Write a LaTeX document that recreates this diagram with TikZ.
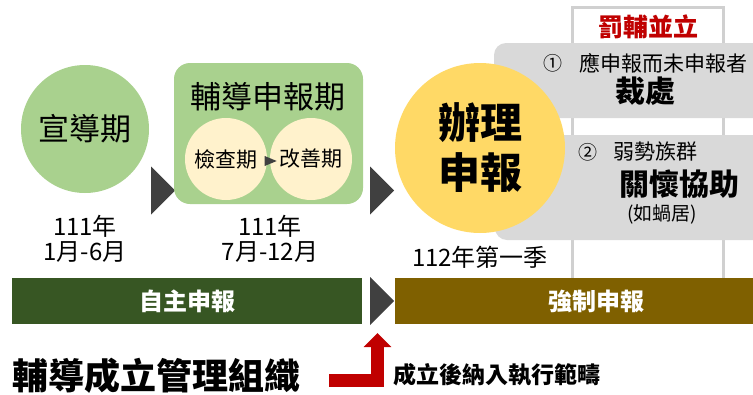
\documentclass[tikz,border=0pt]{standalone}
\usepackage{fontspec}
\newfontfamily\cjk{Noto Sans CJK TC}
\definecolor{leafgreen}{RGB}{169,209,142}
\definecolor{creamy}{RGB}{255,242,204}
\definecolor{sunyellow}{RGB}{255,217,102}
\definecolor{panelgrey}{RGB}{217,217,217}
\definecolor{framegrey}{RGB}{208,208,208}
\definecolor{darkleaf}{RGB}{55,86,35}
\definecolor{olivebrown}{RGB}{127,96,0}
\definecolor{arrowgrey}{RGB}{64,64,64}
\definecolor{alertred}{RGB}{192,0,0}
\usetikzlibrary{arrows.meta,positioning,shapes.geometric}

\newcommand{\fsz}[1]{\fontsize{#1}{#1}\selectfont}

\begin{document}
\begin{tikzpicture}[x=1pt, y=-1pt, font=\cjk,
    phase/.style={circle, fill=leafgreen, inner sep=0pt},
    subphase/.style={circle, fill=creamy, inner sep=0pt, minimum size=82pt, font=\cjk\fsz{21}},
    nextmark/.style={isosceles triangle, isosceles triangle apex angle=90, fill=arrowgrey,
                     inner sep=0pt, minimum height=24pt, minimum width=26pt},
    datetext/.style={align=center, font=\cjk\fsz{24}, inner sep=0pt},
    bartext/.style={text=white, font=\cjk\bfseries\fsz{24}},
    paneltext/.style={font=\cjk\fsz{21}, inner sep=0pt}]
  \useasboundingbox (0,0) rectangle (753,394);

  % voluntary stage
  \node[phase, minimum size=128pt, font=\cjk\fsz{31}] (promo) at (85,129) {宣導期};
  \node[nextmark] (promoNext) at (161,190.5) {};
  \node[datetext] (promoDate) at (85,239) {111年\\[1pt]1月-6月};

  \node[fill=leafgreen, rounded corners=16pt, minimum width=189pt, minimum height=141pt] (guide) at (268.5,133.5) {};
  \node[font=\cjk\fsz{31}, inner sep=0pt] (guideTitle) at (268,97) {輔導申報期};
  \node[subphase] (check) at (226,159) {檢查期};
  \node[subphase] (improve) at (311,159) {改善期};
  \node[isosceles triangle, fill=arrowgrey, inner sep=0pt, minimum height=8pt, minimum width=10pt] (checkNext) at (268,161) {};
  \node[nextmark] (guideNext) at (380,190.5) {};
  \node[datetext] (guideDate) at (270,239) {111年\\[1pt]7月-12月};

  % enforcement frame and panels
  \draw[framegrey, line width=3pt, fill=white] (572,7) rectangle (723,282);
  \node[text=alertred, font=\cjk\bfseries\fsz{25}, inner sep=0pt] (both) at (648,27) {罰輔並立};
  \fill[panelgrey, rounded corners=12pt] (494,43) rectangle (790,118);
  \fill[panelgrey, rounded corners=12pt] (495,135) rectangle (790,240);
  \node[paneltext, font=\cjk\fsz{19}] (one) at (553,63) {①};
  \node[paneltext] (oneText) at (663,63) {應申報而未申報者};
  \node[font=\cjk\bfseries\fsz{30}, inner sep=0pt] (penalty) at (645,91) {裁處};
  \node[paneltext, font=\cjk\fsz{19}] (two) at (588,152) {②};
  \node[paneltext] (twoText) at (655,152) {弱勢族群};
  \node[font=\cjk\bfseries\fsz{30}, inner sep=0pt] (care) at (679,184) {關懷協助};
  \node[paneltext, font=\cjk\fsz{19}] (careNote) at (662,214) {(如蝸居)};

  \node[circle, fill=sunyellow, minimum size=170pt, inner sep=0pt, align=center,
        font=\cjk\bfseries\fontsize{42}{50}\selectfont] (filing) at (480,148) {辦理\\申報};
  \node[datetext] (filingDate) at (480,257) {112年第一季};

  % bars
  \node[fill=darkleaf, minimum width=350pt, minimum height=46pt, inner sep=0pt] (selfBar) at (187,301) {};
  \node[bartext] at (selfBar) {自主申報};
  \node[nextmark] (barNext) at (380,301) {};
  \node[fill=olivebrown, minimum width=405pt, minimum height=46pt, inner sep=0pt] (forceBar) at (597.5,301) {};
  \node[bartext] at (596,301) {強制申報};

  % bottom note
  \node[anchor=west, font=\cjk\bfseries\fsz{36}, inner sep=0pt] (org) at (12,376) {輔導成立管理組織};
  \coordinate (orgArrow) at (329,380.5);
  \coordinate (orgTip) at (377.5,333);
  \draw[alertred, line width=13pt, -{Triangle[width=27pt, length=14pt]}] (orgArrow) -| (orgTip);
  \node[anchor=west, font=\cjk\bfseries\fsz{23}, inner sep=0pt] (orgNote) at (393,375) {成立後納入執行範疇};
\end{tikzpicture}
\end{document}
